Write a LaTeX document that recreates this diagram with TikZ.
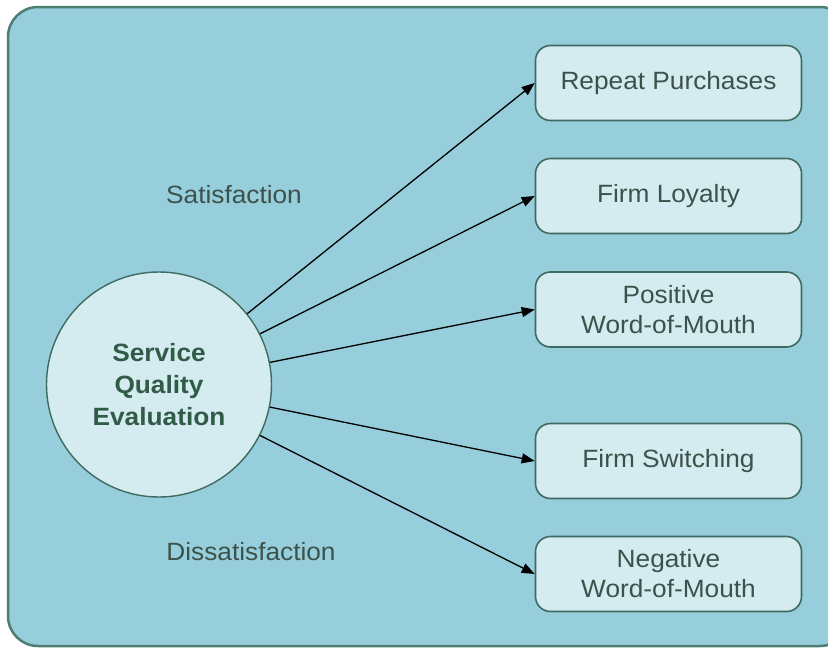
\documentclass[tikz,border=0pt]{standalone}
\usepackage{fontspec}
\setmainfont{Liberation Sans}[FakeStretch=1.05]
\usetikzlibrary{arrows.meta}
\definecolor{bgfill}{HTML}{96CEDB}
\definecolor{bgline}{HTML}{4E7D72}
\definecolor{boxfill}{HTML}{D4EBF0}
\definecolor{boxline}{HTML}{3F6A5F}
\definecolor{boxtext}{HTML}{3E524C}
\definecolor{circtext}{HTML}{2F5B47}
\tikzset{
  outbox/.style={draw=boxline, line width=1.6pt, fill=boxfill, rounded corners=15pt,
    minimum width=266pt, minimum height=75pt, inner sep=0pt, align=center,
    text=boxtext, font=\fontsize{25}{30}\selectfont},
  arr/.style={-{Triangle[length=13pt,width=10pt]}, line width=1.3pt, black},
  lbl/.style={text=boxtext, font=\fontsize{25}{30}\selectfont}
}
\begin{document}
\begin{tikzpicture}[x=1pt,y=-1pt]
\useasboundingbox (0,0) rectangle (828,648);
\draw[draw=bgline, line width=2.5pt, fill=bgfill, rounded corners=30pt] (8,7) rectangle (850,646);
\node[circle, draw=boxline, line width=1.4pt, fill=boxfill, minimum size=225pt, inner sep=0pt,
  align=center, text=circtext, font=\bfseries\fontsize{25}{32}\selectfont] (sqe) at (159,384.5) {Service\\Quality\\Evaluation};
\node[outbox] (rp) at (668.5,83) {Repeat Purchases};
\node[outbox] (fl) at (668.5,196) {Firm Loyalty};
\node[outbox] (pw) at (668.5,309.5) {Positive\\Word-of-Mouth};
\node[outbox] (fs) at (668.5,461) {Firm Switching};
\node[outbox] (nw) at (668.5,574) {Negative\\Word-of-Mouth};
\node[lbl] (sat) at (234,195) {Satisfaction};
\node[lbl] (dis) at (251,552) {Dissatisfaction};
\draw[arr] (sqe) -- (rp.west);
\draw[arr] (sqe) -- (fl.west);
\draw[arr] (sqe) -- (pw.west);
\draw[arr] (sqe) -- (fs.west);
\draw[arr] (sqe) -- (nw.west);
\end{tikzpicture}
\end{document}
